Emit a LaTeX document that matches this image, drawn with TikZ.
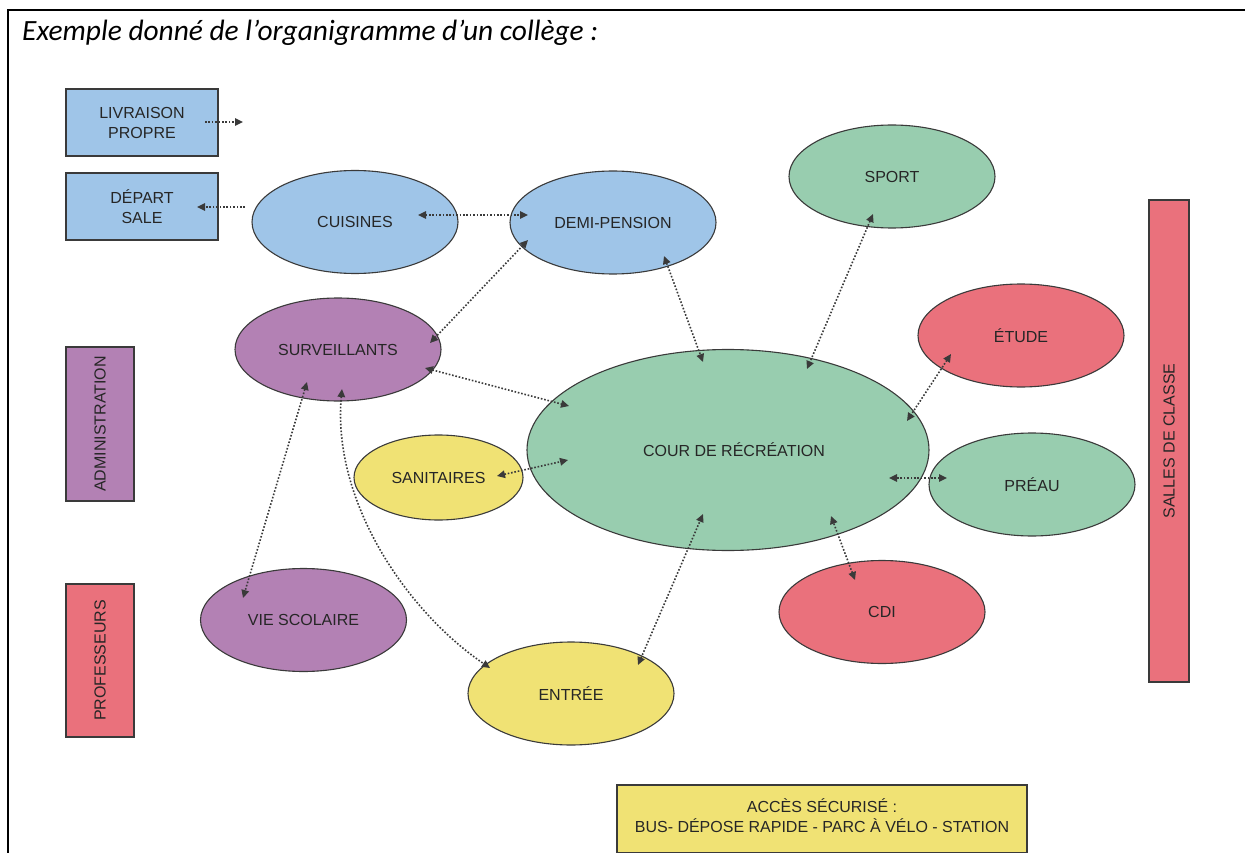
\documentclass[tikz,border=0pt]{standalone}
\usepackage{fontspec}
\setmainfont{Liberation Sans}
\newfontfamily\titlefont{Carlito}
\usetikzlibrary{shapes.geometric,arrows.meta}
\definecolor{cblue}{HTML}{9FC5E8}
\definecolor{cpurple}{HTML}{B381B4}
\definecolor{cgreen}{HTML}{98CDAF}
\definecolor{cred}{HTML}{EA717C}
\definecolor{cyellow}{HTML}{F0E274}
\definecolor{cline}{HTML}{3A3A3A}
\definecolor{ctext}{HTML}{262626}
\begin{document}
\begin{tikzpicture}[x=1pt,y=-1pt,
  >={Triangle[length=8pt,width=7.5pt]},
  base/.style={draw=cline, line width=1.1pt, text=ctext, font=\fontsize{16}{20}\selectfont, inner sep=0pt, align=center},
  oval/.style={base, ellipse, minimum width=206pt, minimum height=103pt},
  box/.style={base, rectangle},
  conn/.style={cline, line width=1.6pt, dash pattern=on 1.6pt off 1.8pt}]
\useasboundingbox (0,0) rectangle (1245,853);
% frame
\draw[line width=2pt] (8.3,853) -- (8.3,9.8) -- (1245,9.8);
\node[anchor=base west, inner sep=0pt, font=\titlefont\itshape\fontsize{29.4}{32}\selectfont] (title) at (22,40.5) {Exemple donné de l’organigramme d’un collège :};
% boxes
\node[box, fill=cblue, minimum width=152pt, minimum height=67pt] (livr) at (142,122.5) {LIVRAISON\\PROPRE};
\node[box, fill=cblue, minimum width=152pt, minimum height=67pt] (dep) at (142,206.5) {DÉPART\\SALE};
\node[box, fill=cpurple, rotate=90, minimum width=154pt, minimum height=68pt] (admin) at (100,424) {ADMINISTRATION};
\node[box, fill=cred, rotate=90, minimum width=153pt, minimum height=68pt] (prof) at (100,660.5) {PROFESSEURS};
\node[box, fill=cred, rotate=90, minimum width=482pt, minimum height=40pt] (salles) at (1169,441) {SALLES DE CLASSE};
\node[box, fill=cyellow, minimum width=410pt, minimum height=68pt, text depth=6pt] (acces) at (822,819) {ACCÈS SÉCURISÉ :\\BUS- DÉPOSE RAPIDE - PARC À VÉLO - STATION};
% ovals
\node[oval, fill=cblue] (cuis) at (355,222) {CUISINES};
\node[oval, fill=cblue] (demi) at (613,222.5) {DEMI-PENSION};
\node[oval, fill=cgreen] (sport) at (892,176.5) {SPORT};
\node[oval, fill=cred] (etude) at (1021,335.5) {ÉTUDE};
\node[oval, fill=cgreen] (preau) at (1032,484.5) {PRÉAU};
\node[oval, fill=cred] (cdi) at (882,612) {CDI};
\node[oval, fill=cgreen, minimum width=402pt, minimum height=201pt] (cour) at (728,450) {\hspace*{12pt}COUR DE RÉCRÉATION};
\node[oval, fill=cyellow, minimum width=169pt, minimum height=85pt] (sani) at (438.5,477.5) {SANITAIRES};
\node[oval, fill=cpurple] (surv) at (338,349.5) {SURVEILLANTS};
\node[oval, fill=cpurple] (vie) at (303.5,620) {VIE SCOLAIRE};
\node[oval, fill=cyellow] (entree) at (571,693.5) {ENTRÉE};
% connectors
\coordinate (livrEnd) at (243,122);
\coordinate (depStart) at (245,207);
\draw[conn,->] ([shift={(63,-0.5)}]livr.center) -- (livrEnd);
\draw[conn,->] (depStart) -- ([shift={(55,0.5)}]dep.center);
\draw[conn,<->] ([shift={(63,-7)}]cuis.center) -- ([shift={(-85,-7.5)}]demi.center);
\draw[conn,<->] ([shift={(-85,17.5)}]demi.center) -- ([shift={(92,-6.5)}]surv.center);
\draw[conn,<->] ([shift={(87,18.5)}]surv.center) -- ([shift={(-159,-44)}]cour.center);
\draw[conn,<->] ([shift={(51,33.5)}]demi.center) -- ([shift={(-25,-88)}]cour.center);
\draw[conn,<->] ([shift={(-19,37.5)}]sport.center) -- ([shift={(79,-81)}]cour.center);
\draw[conn,<->] ([shift={(-70,18.5)}]etude.center) -- ([shift={(179,-29)}]cour.center);
\draw[conn,<->] ([shift={(-85,-6.5)}]preau.center) -- ([shift={(161,28)}]cour.center);
\draw[conn,<->] ([shift={(-27,-32)}]cdi.center) -- ([shift={(103,66)}]cour.center);
\draw[conn,<->] ([shift={(67,-28.5)}]entree.center) -- ([shift={(-25,64)}]cour.center);
\draw[conn,<->] ([shift={(58.5,-1.5)}]sani.center) -- ([shift={(-160,10)}]cour.center);
\draw[conn,<->] ([shift={(-31,32.5)}]surv.center) -- ([shift={(-60.5,-22)}]vie.center);
\draw[conn,<->] ([shift={(4,39.5)}]surv.center) .. controls (332,500) and (405,610) .. ([shift={(-81,-25.5)}]entree.center);
\end{tikzpicture}
\end{document}
